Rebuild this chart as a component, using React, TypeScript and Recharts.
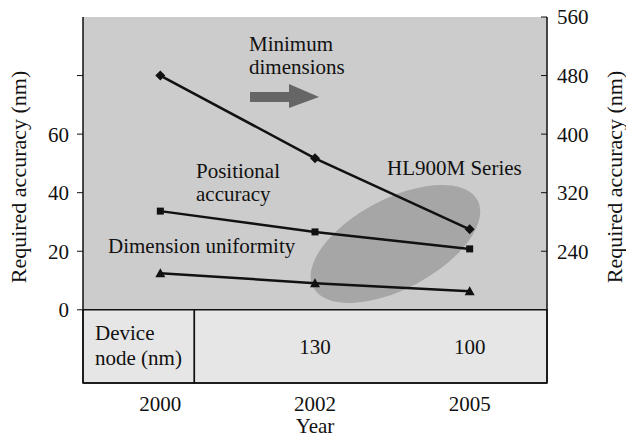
import React from 'react';
import { LineChart, Line, XAxis, YAxis, ReferenceArea, ReferenceDot } from 'recharts';

const years = ['2000', '2002', '2005'];
const minimumDimensions = [480, 367, 270];
const positionalAccuracy = [33.7, 26.6, 20.8];
const dimensionUniformity = [12.5, 9.1, 6.3];
const deviceNodes = ['', '130', '100'];
const leftTicks = [0, 20, 40, 60, 80];
const leftTickLabels: Record<number, string> = { 0: '0', 20: '20', 40: '40', 60: '60', 80: '' };
const rightTicks = [240, 320, 400, 480, 560];

const data = years.map((year, i) => ({
  i,
  year,
  minDims: minimumDimensions[i],
  pos: positionalAccuracy[i],
  uni: dimensionUniformity[i],
}));

const FONT = 'Liberation Serif, Times New Roman, Times, serif';
const FS = 21;

const Diamond = (p: any) => {
  const { cx, cy } = p;
  if (cx == null || cy == null) return null;
  return <polygon points={`${cx},${cy - 5} ${cx + 5},${cy} ${cx},${cy + 5} ${cx - 5},${cy}`} fill="#111" />;
};
const Square = (p: any) => {
  const { cx, cy } = p;
  if (cx == null || cy == null) return null;
  return <rect x={cx - 3.5} y={cy - 3.5} width={7} height={7} fill="#111" />;
};
const Triangle = (p: any) => {
  const { cx, cy } = p;
  if (cx == null || cy == null) return null;
  return <polygon points={`${cx},${cy - 5} ${cx + 5},${cy + 4} ${cx - 5},${cy + 4}`} fill="#111" />;
};

const EllipseShape = (p: any) => {
  const { x, y, width, height } = p;
  if (x == null || y == null) return null;
  const cx = x + width / 2;
  const cy = y + height / 2;
  return <ellipse cx={cx} cy={cy} rx={93} ry={45} fill="#a6a6a6" transform={`rotate(-28 ${cx} ${cy})`} />;
};

const Overlay = () => (
  <g style={{ fontFamily: FONT, fontSize: FS }} fill="#111">
    <text x={18} y={177} transform="rotate(-90 18 177)" textAnchor="middle" dy="0.35em" style={{ fontSize: 22 }}>
      Required accuracy (nm)
    </text>
    <text x={614} y={177} transform="rotate(-90 614 177)" textAnchor="middle" dy="0.35em" style={{ fontSize: 22 }}>
      Required accuracy (nm)
    </text>
    <text x={249} y={51}>Minimum</text>
    <text x={249} y={74}>dimensions</text>
    <polygon points="250,92 289,92 289,84 319,97 289,108 289,102 250,102" fill="#666" />
    <text x={196} y={178}>Positional</text>
    <text x={196} y={201}>accuracy</text>
    <text x={108} y={253}>Dimension uniformity</text>
    <text x={387} y={175}>HL900M Series</text>
    <text x={95} y={340}>Device</text>
    <text x={95} y={365}>node (nm)</text>
  </g>
);

export default function App() {
  return (
    <div style={{ position: 'absolute', left: 0, top: 0, width: 626, height: 437, background: '#fff', fontFamily: FONT }}>
      <LineChart width={626} height={437} data={data} margin={{ top: 17, right: 0, bottom: 0, left: 0 }}>
        <XAxis
          dataKey="i"
          type="number"
          domain={[-0.5, 2.5]}
          ticks={[0, 1, 2]}
          tickFormatter={(v: number) => years[v]}
          height={54}
          tickLine={false}
          tickSize={6}
          tickMargin={7}
          axisLine={{ stroke: '#111', strokeWidth: 1.5 }}
          tick={{ fill: '#111', fontFamily: FONT, fontSize: FS }}
          label={{ value: 'Year', position: 'insideBottom', offset: 4, fill: '#111', fontFamily: FONT, fontSize: FS }}
        />
        <YAxis
          yAxisId="left"
          orientation="left"
          width={83}
          domain={[-25, 100]}
          ticks={leftTicks}
          tickFormatter={(v: number) => leftTickLabels[v] ?? ''}
          interval={0}
          tickSize={6}
          tickMargin={8}
          axisLine={{ stroke: '#111', strokeWidth: 1.5 }}
          tickLine={{ stroke: '#111' }}
          tick={{ fill: '#111', fontFamily: FONT, fontSize: FS }}
        />
        <YAxis
          yAxisId="right"
          orientation="right"
          width={79}
          domain={[60, 560]}
          ticks={rightTicks}
          interval={0}
          tickSize={-6}
          tickMargin={16}
          axisLine={{ stroke: '#111', strokeWidth: 1.5 }}
          tickLine={{ stroke: '#111' }}
          tick={{ fill: '#111', fontFamily: FONT, fontSize: FS, textAnchor: 'start' }}
        />
        <ReferenceArea yAxisId="left" x1={-0.5} x2={2.5} y1={0} y2={100} fill="#cccccc" fillOpacity={1} stroke="none" />
        <ReferenceArea yAxisId="left" x1={-0.5} x2={0.22} y1={-25} y2={0} fill="#e6e6e6" fillOpacity={1} stroke="#111" strokeWidth={1.5} />
        <ReferenceArea yAxisId="left" x1={0.22} x2={2.5} y1={-25} y2={0} fill="#e6e6e6" fillOpacity={1} stroke="#111" strokeWidth={1.5} />
        <ReferenceArea yAxisId="left" x1={1.5} x2={1.54} y1={22} y2={23} shape={EllipseShape} />
        {deviceNodes.map((n, i) =>
          n ? (
            <ReferenceDot
              key={i}
              yAxisId="left"
              x={i}
              y={-12.5}
              r={0}
              fill="none"
              stroke="none"
              label={{ value: n, position: 'center', fill: '#111', fontFamily: FONT, fontSize: FS }}
            />
          ) : null
        )}
        <Line yAxisId="right" dataKey="minDims" stroke="#111" strokeWidth={2.5} dot={Diamond} isAnimationActive={false} />
        <Line yAxisId="left" dataKey="pos" stroke="#111" strokeWidth={2.5} dot={Square} isAnimationActive={false} />
        <Line yAxisId="left" dataKey="uni" stroke="#111" strokeWidth={2.5} dot={Triangle} isAnimationActive={false} />
        <ReferenceDot yAxisId="left" x={0} y={0} r={0} shape={Overlay} />
      </LineChart>
    </div>
  );
}
